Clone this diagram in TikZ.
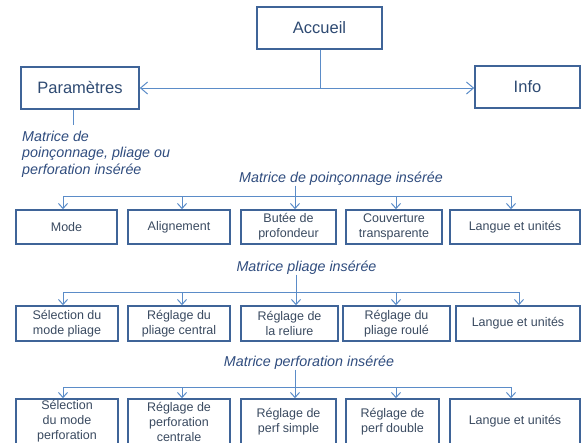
\documentclass[tikz,border=0pt]{standalone}
\usepackage{fontspec}
\setmainfont{Liberation Sans}
\usetikzlibrary{arrows.meta}
\definecolor{boxc}{HTML}{3F6498}
\definecolor{connc}{HTML}{5B8CC8}
\definecolor{txtc}{HTML}{3A4A60}
\definecolor{topc}{HTML}{2E4A72}
\definecolor{labc}{HTML}{2F4C7E}
\tikzset{
  box/.style={draw=boxc, line width=1.6pt, inner sep=0pt, align=center, text=txtc,
    font=\fontsize{12.5}{15}\selectfont},
  topbox/.style={box, text=topc, font=\fontsize{16.5}{20}\selectfont},
  lab/.style={text=labc, font=\fontsize{14.3}{16.5}\selectfont\itshape, inner sep=0pt},
  conn/.style={draw=connc, line width=1pt},
  arr/.style={conn, -{Straight Barb[length=5pt,width=9pt]}},
  toparr/.style={conn, -{Straight Barb[length=7pt,width=12pt]}},
}
\begin{document}
\begin{tikzpicture}[x=1pt,y=-1pt]
\useasboundingbox (0,0) rectangle (583,442);
\clip (0,0) rectangle (583,442);
% top level
\node[topbox, minimum width=125pt, minimum height=42pt] (acc) at (319.5,28) {Accueil};
\node[topbox, minimum width=118pt, minimum height=42pt] (par) at (80,88) {Paramètres};
\node[topbox, minimum width=105pt, minimum height=42pt] (info) at (527.5,87) {Info};
\coordinate (j) at (320,88);
\draw[conn] (acc.south -| j) -- (j);
\draw[toparr] (j) -- (par.east |- j);
\draw[toparr] (j) -- (info.west |- j);
\coordinate (pl) at (73,125);
\draw[conn] (par.south -| pl) -- (pl);
\node[lab, anchor=north west, align=left] (lp) at (22,130.5) {Matrice de\\poinçonnage, pliage ou\\perforation insérée};

% row 1
\node[box, minimum width=101pt, minimum height=34pt] (b11) at (66.5,227) {Mode};
\node[box, minimum width=102pt, minimum height=34pt] (b12) at (179,227) {Alignement};
\node[box, minimum width=95pt, minimum height=34pt] (b13) at (288.5,227) {Butée de\\profondeur};
\node[box, minimum width=96pt, minimum height=34pt] (b14) at (394,227) {Couverture\\transparente};
\node[box, minimum width=130pt, minimum height=34pt] (b15) at (515,227) {Langue et unités};
\node[lab, anchor=base] (l1) at (341,182.5) {Matrice de poinçonnage insérée};
\coordinate (a11) at (63,196);
\coordinate (a12) at (182,196);
\coordinate (a13) at (295,196);
\coordinate (a14) at (396,196);
\coordinate (a15) at (511,196);
\draw[conn] (a11) -- (a15);
\draw[arr] (l1.south -| a13) -- (a13 |- b13.north);
\foreach \i in {1,2,4,5} \draw[arr] (a1\i) -- (a1\i |- b1\i.north);

% row 2
\node[box, minimum width=102pt, minimum height=35pt] (b21) at (67,323.5) {Sélection du\\mode pliage};
\node[box, minimum width=102pt, minimum height=35pt] (b22) at (179,323.5) {Réglage du\\pliage central};
\node[box, minimum width=97pt, minimum height=35pt] (b23) at (289.5,323.5) {Réglage de\\la reliure};
\node[box, minimum width=107pt, minimum height=35pt] (b24) at (396.5,323.5) {Réglage du\\pliage roulé};
\node[box, minimum width=124pt, minimum height=35pt] (b25) at (518,323.5) {Langue et unités};
\node[lab, anchor=base] (l2) at (306.5,271.5) {Matrice pliage insérée};
\coordinate (a21) at (63,292);
\coordinate (a22) at (182,292);
\coordinate (a23) at (296,292);
\coordinate (a24) at (396,292);
\coordinate (a25) at (519,292);
\draw[conn] (a21) -- (a25);
\draw[arr] (l2.south -| a23) -- (a23 |- b23.north);
\foreach \i in {1,2,4,5} \draw[arr] (a2\i) -- (a2\i |- b2\i.north);

% row 3
\node[box, minimum width=102pt, minimum height=45pt] (b31) at (67,421.5) {Sélection\\du mode\\perforation};
\node[box, minimum width=102pt, minimum height=45pt] (b32) at (179,421.5) {Réglage de\\perforation\\centrale};
\node[box, minimum width=95pt, minimum height=45pt] (b33) at (288.5,421.5) {Réglage de\\perf simple};
\node[box, minimum width=93pt, minimum height=45pt] (b34) at (392.5,421.5) {Réglage de\\perf double};
\node[box, minimum width=130pt, minimum height=45pt] (b35) at (515,421.5) {Langue et unités};
\node[lab, anchor=base] (l3) at (309,366.5) {Matrice perforation insérée};
\coordinate (a31) at (63,387);
\coordinate (a32) at (182,387);
\coordinate (a33) at (295,387);
\coordinate (a34) at (396,387);
\coordinate (a35) at (511,387);
\draw[conn] (a31) -- (a35);
\draw[arr] (l3.south -| a33) -- (a33 |- b33.north);
\foreach \i in {1,2,4,5} \draw[arr] (a3\i) -- (a3\i |- b3\i.north);
\end{tikzpicture}
\end{document}
